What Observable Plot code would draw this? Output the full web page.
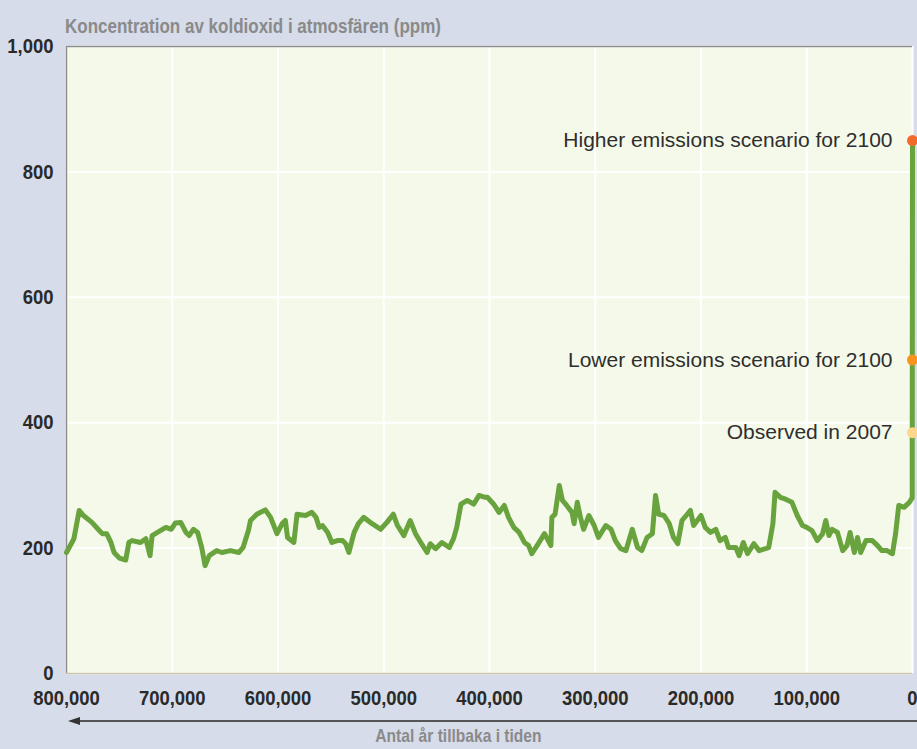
<!DOCTYPE html>
<html>
<head>
<meta charset="utf-8">
<script src="https://cdn.jsdelivr.net/npm/d3@7"></script>
<script src="https://cdn.jsdelivr.net/npm/@observablehq/plot@0.6"></script>
<style>
  html, body { margin: 0; padding: 0; }
  body { width: 917px; height: 749px; overflow: hidden; background: #d6dce9; position: relative;
         font-family: "Liberation Sans", Arial, sans-serif; }
  #title { position: absolute; left: 65px; top: 16px; font-size: 20px; line-height: 20px; font-weight: bold; color: #8a8a8a;
           white-space: nowrap; transform: scaleX(0.85); transform-origin: 0 0; }
  #chart { position: absolute; left: 0; top: 30px; }
  #arrow { position: absolute; left: 72px; top: 720px; width: 845px; height: 2px; background: #555; }
  #arrowhead { position: absolute; left: 68px; top: 717px; width: 0; height: 0;
               border-top: 4px solid transparent; border-bottom: 4px solid transparent; border-right: 12px solid #333; }
  #xlabel { position: absolute; left: 0; width: 917px; top: 726px; text-align: center; font-size: 19px; line-height: 19px;
            font-weight: bold; color: #8a8a8a; white-space: nowrap; transform: scaleX(0.82); transform-origin: 458px 0; }
</style>
</head>
<body>
<div id="title">Koncentration av koldioxid i atmosfären (ppm)</div>
<div id="chart"></div>
<div id="arrow"></div>
<div id="arrowhead"></div>
<div id="xlabel">Antal år tillbaka i tiden</div>
<script>
// Thousands of years before present
const kyrAgo = [800,793,788,784,776,769,766,762,758,755,750,744,741,738,730,725,721,719,714,706,701,697,692,687,684,680,676,672,669,
  665,658,653,645,637,633,628,626,620,612,607,601,596,593,591,585,582,574,568,564,561,558,553,549,544,539,536,533,528,524,519,511,503,
  497,491,487,481,475,470,465,459,456,451,445,438,434,431,427,421,415,410,404,402,396,391,386,382,377,372,367,363,360,355,348,342,341,
  338,334,331,327,322,320,317,314,311,306,301,297,290,285,281,276,271,265,260,256,251,246,243,240,235,230,226,222,218,213,210,207,200,
  196,191,186,182,177,174,167,164,160,156,150,145,139,136,132,130,125,120,114,109,104,100,95,90,85,82,79,76,71,66,62,59,55,52,49,44,38,
  33,29,24,19,16,13,8,3,0.3,0];
// CO2 concentration (ppm)
const co2ppm = [193,215,260,252,241,228,223,223,209,193,184,181,209,212,209,215,188,220,225,233,230,240,241,225,220,230,225,200,172,
  188,196,193,196,193,201,228,244,254,261,249,223,239,244,217,209,254,252,257,249,233,236,225,209,212,212,207,193,225,239,249,239,230,
  241,254,236,220,244,223,209,193,207,199,209,201,215,233,270,276,270,284,281,281,270,257,268,249,233,225,209,204,191,204,223,204,249,
  254,300,276,268,257,239,273,249,230,252,236,217,236,230,212,199,196,230,201,196,217,223,284,254,252,239,217,207,244,254,260,236,252,
  233,225,230,212,217,201,201,188,209,191,207,196,199,201,239,289,281,278,273,252,236,233,228,212,223,244,220,230,225,196,204,225,193,217,193,212,212,
  204,196,196,191,223,268,265,273,280,850];

const scenarioLabels = ["Higher emissions scenario for 2100", "Lower emissions scenario for 2100", "Observed in 2007"];
const scenarioValues = [850, 500, 384];
const scenarioColors = ["#f26a2a", "#f7941d", "#fdd88c"];

const xTickValues = [800000, 700000, 600000, 500000, 400000, 300000, 200000, 100000, 0];
const yTickValues = [0, 200, 400, 600, 800, 1000];

const series = kyrAgo.map((k, i) => ({year: k * 1000, ppm: co2ppm[i]}));
const scenarios = scenarioLabels.map((label, i) => ({label, year: 0, ppm: scenarioValues[i], color: scenarioColors[i]}));
const fmt = d3.format(",");

const chart = Plot.plot({
  width: 917,
  height: 680,
  marginLeft: 66,
  marginRight: 5,
  marginTop: 16,
  marginBottom: 37,
  style: {background: "transparent", fontFamily: "'Liberation Sans', Arial, sans-serif", overflow: "visible"},
  x: {domain: [800000, 0]},
  y: {domain: [0, 1000]},
  marks: [
    Plot.frame({fill: "#f5f9ea", stroke: null}),
    Plot.gridX(xTickValues, {stroke: "white", strokeOpacity: 1, strokeWidth: 2}),
    Plot.gridY(yTickValues, {stroke: "white", strokeOpacity: 1, strokeWidth: 2}),
    Plot.ruleX([800000], {stroke: "#8c8c8c", strokeWidth: 1.5}),
    Plot.ruleY([1000], {stroke: "#8c8c8c", strokeWidth: 1.5}),
    Plot.ruleY([0], {stroke: "#c9c2a8", strokeWidth: 1.5}),
    Plot.axisX(xTickValues, {tickSize: 0, tickPadding: 17, tickFormat: fmt, fontSize: 21, fontWeight: "bold", fill: "#2a2a2a", label: null}),
    Plot.axisY(yTickValues, {tickSize: 0, tickPadding: 13, tickFormat: fmt, fontSize: 21, fontWeight: "bold", fill: "#2a2a2a", label: null}),
    Plot.line(series, {x: "year", y: "ppm", stroke: "#68a33e", strokeWidth: 5, strokeLinejoin: "round", strokeLinecap: "round"}),
    Plot.dot(scenarios, {x: "year", y: "ppm", fill: "color", r: 5.5}),
    Plot.text(scenarios, {x: "year", y: "ppm", text: "label", textAnchor: "end", dx: -20, fontSize: 21, fill: "#2e2e2e"})
  ]
});

// Condense tick-label glyphs horizontally around each label's anchor point
chart.querySelectorAll('g[aria-label="x-axis tick label"] text, g[aria-label="y-axis tick label"] text').forEach(t => {
  const tr = t.getAttribute("transform") || "";
  t.setAttribute("transform", tr + " scale(0.88,1)");
});

document.getElementById("chart").appendChild(chart);
</script>
</body>
</html>
